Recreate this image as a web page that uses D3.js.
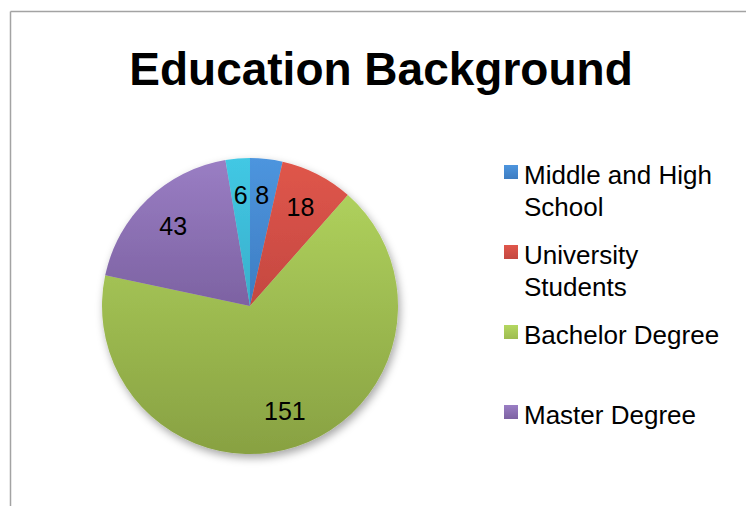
<!DOCTYPE html>
<html>
<head>
<meta charset="utf-8">
<script src="https://cdn.jsdelivr.net/npm/d3@7"></script>
<style>
  html, body { margin: 0; padding: 0; background: #fff; }
  svg { display: block; font-family: "Liberation Sans", Arial, sans-serif; }
</style>
</head>
<body>
<svg id="chart" width="746" height="506"></svg>
<script>
// ---- data ----
const title = "Education Background";
const categories = ["Middle and High School", "University Students", "Bachelor Degree", "Master Degree", "Other"];
const values = [8, 18, 151, 43, 6];
const legendLines = [["Middle and High", "School"], ["University", "Students"], ["Bachelor Degree"], ["Master Degree"]];
const colorsTop = ["#4d95de", "#e0564b", "#b4d760", "#9a7ec4", "#42c8e4"];
const colorsBottom = ["#2f64a6", "#a83a36", "#88a142", "#5f4680", "#2f95b2"];

// ---- layout ----
const W = 746, H = 506;
const cx = 250, cy = 306, R = 148;
const svg = d3.select("#chart");
const defs = svg.append("defs");

// border (top and left visible)
svg.append("line").attr("x1", 10.5).attr("y1", 11.5).attr("x2", W).attr("y2", 11.5)
  .attr("stroke", "#a3a3a3").attr("stroke-width", 1.5);
svg.append("line").attr("x1", 10.5).attr("y1", 11.5).attr("x2", 10.5).attr("y2", H)
  .attr("stroke", "#a3a3a3").attr("stroke-width", 1.5);

// title
svg.append("text").attr("x", 381).attr("y", 85)
  .attr("text-anchor", "middle").attr("font-size", 46).attr("font-weight", "bold")
  .attr("fill", "#000").text(title);

// gradients
categories.forEach((c, i) => {
  const g = defs.append("linearGradient").attr("id", "pg" + i)
    .attr("gradientUnits", "userSpaceOnUse")
    .attr("x1", 0).attr("x2", 0).attr("y1", cy - R).attr("y2", cy + R);
  g.append("stop").attr("offset", "0%").attr("stop-color", colorsTop[i]);
  g.append("stop").attr("offset", "100%").attr("stop-color", colorsBottom[i]);
  const lg = defs.append("linearGradient").attr("id", "lg" + i)
    .attr("x1", 0).attr("x2", 0).attr("y1", 0).attr("y2", 1);
  lg.append("stop").attr("offset", "0%").attr("stop-color", colorsTop[i]);
  lg.append("stop").attr("offset", "100%").attr("stop-color", d3.interpolateRgb(colorsTop[i], colorsBottom[i])(0.5));
});

const f = defs.append("filter").attr("id", "shadow")
  .attr("x", "-20%").attr("y", "-20%").attr("width", "140%").attr("height", "140%");
f.append("feDropShadow").attr("dx", 2).attr("dy", 4).attr("stdDeviation", 4)
  .attr("flood-color", "#000").attr("flood-opacity", 0.35);

// pie
const data = categories.map((c, i) => ({ name: c, value: values[i], i }));
const pie = d3.pie().value(d => d.value).sort(null);
const arcs = pie(data);
const arc = d3.arc().innerRadius(0).outerRadius(R);
const labelArc = d3.arc().innerRadius(R * 0.75).outerRadius(R * 0.75);

const gPie = svg.append("g").attr("transform", `translate(${cx},${cy})`);
gPie.append("g").attr("filter", "url(#shadow)")
  .selectAll("path").data(arcs).join("path")
  .attr("d", arc)
  .attr("fill", d => `url(#pg${d.data.i})`)
  .attr("transform", `translate(0,0)`);

// gradients are in user space relative to translated group: fix by using local coordinates
categories.forEach((c, i) => {
  d3.select("#pg" + i).attr("y1", -R).attr("y2", R);
});

gPie.selectAll("text.lbl").data(arcs).join("text")
  .attr("class", "lbl")
  .attr("transform", d => `translate(${labelArc.centroid(d)})`)
  .attr("text-anchor", "middle").attr("dy", "0.35em")
  .attr("font-size", 25).attr("fill", "#000")
  .text(d => d.data.value);

// legend
const legendItems = legendLines.map((lines, i) => ({ lines, i }));
const legend = svg.append("g");
const item = legend.selectAll("g").data(legendItems).join("g")
  .attr("transform", (d, k) => `translate(504,${165 + k * 80})`);
item.append("rect").attr("width", 14).attr("height", 14)
  .attr("fill", d => `url(#lg${d.i})`);
item.append("text").attr("x", 20).attr("y", 19)
  .attr("font-size", 26).attr("fill", "#000")
  .selectAll("tspan").data(d => d.lines).join("tspan")
  .attr("x", 20).attr("dy", (d, j) => j === 0 ? 0 : 32)
  .text(d => d);
</script>
</body>
</html>
